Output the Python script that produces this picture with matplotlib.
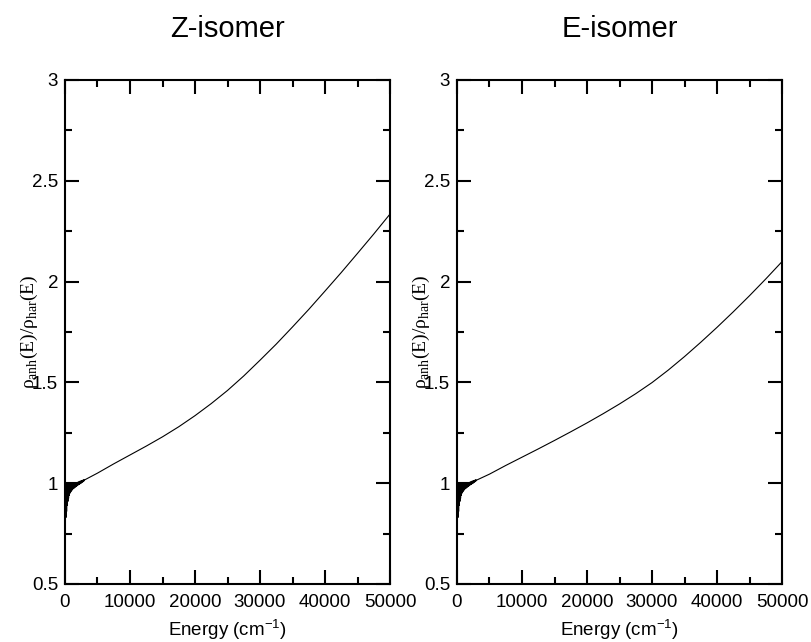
import matplotlib
matplotlib.use("Agg")
import matplotlib.pyplot as plt
from matplotlib.ticker import MultipleLocator

# ---------------- data ----------------
titles = ["Z-isomer", "E-isomer"]

# low-energy fluctuating region (same look for both isomers)
low_energy = [0, 50, 100, 150, 200, 250, 300, 350, 400, 450, 500, 550, 600, 650,
              700, 750, 800, 850, 900, 950, 1000, 1050, 1100, 1150, 1200, 1250,
              1300, 1350, 1400, 1450, 1500, 1550, 1600, 1650, 1700, 1750, 1800,
              1850, 1900, 1950, 2000, 2050, 2100, 2150, 2200, 2250, 2300, 2350,
              2400, 2450, 2500, 2550, 2600, 2650, 2700, 2750, 2800, 2850, 2900,
              2950]
low_ratio = [0.80, 0.81, 0.99, 0.83, 1.00, 0.86, 0.99, 0.89, 1.00, 0.91, 1.00,
             0.925, 0.995, 0.94, 1.00, 0.95, 1.00, 0.955, 0.995, 0.96, 1.00,
             0.965, 1.00, 0.968, 0.998, 0.972, 1.00, 0.975, 1.00, 0.977, 1.002,
             0.98, 1.00, 0.982, 1.003, 0.985, 1.00, 0.987, 1.004, 0.99, 1.005,
             0.992, 1.006, 0.994, 1.008, 0.996, 1.01, 0.998, 1.01, 1.00, 1.012,
             1.002, 1.013, 1.005, 1.014, 1.007, 1.016, 1.009, 1.017, 1.012]

energy = [3000, 5000, 7500, 10000, 12500, 15000, 17500, 20000, 22500, 25000,
          27500, 30000, 32500, 35000, 37500, 40000, 42500, 45000, 47500, 50000]
ratio_z = [1.016, 1.05, 1.096, 1.14, 1.184, 1.23, 1.28, 1.335, 1.395, 1.46,
           1.532, 1.61, 1.69, 1.775, 1.862, 1.953, 2.045, 2.14, 2.236, 2.335]
ratio_e = [1.015, 1.045, 1.088, 1.129, 1.17, 1.212, 1.255, 1.299, 1.345, 1.393,
           1.444, 1.499, 1.561, 1.628, 1.699, 1.773, 1.85, 1.93, 2.013, 2.099]

x_ticks = [0, 10000, 20000, 30000, 40000, 50000]
y_ticks = [0.5, 1, 1.5, 2, 2.5, 3]

# ---------------- figure ----------------
W, H = 812, 642
fig = plt.figure(figsize=(W / 100, H / 100), dpi=100)

sans = "Liberation Sans"
serif = "Liberation Serif"

panels = [
    (65, titles[0], ratio_z),
    (457, titles[1], ratio_e),
]
ax_w, ax_top, ax_bot = 325, 80, 584

for left_px, title, r in panels:
    ax = fig.add_axes([left_px / W, (H - ax_bot) / H, ax_w / W, (ax_bot - ax_top) / H])
    ax.plot(low_energy + energy, low_ratio + r, color="black", lw=0.8)
    ax.set_xlim(0, 50000)
    ax.set_ylim(0.5, 3)
    ax.set_xticks(x_ticks)
    ax.set_yticks(y_ticks)
    ax.xaxis.set_minor_locator(MultipleLocator(5000))
    ax.yaxis.set_minor_locator(MultipleLocator(0.25))
    ax.set_yticklabels([("%g" % v) for v in y_ticks])
    ax.set_xticklabels([str(v) for v in x_ticks])
    ax.tick_params(which="both", direction="in", top=True, right=True, width=1.5)
    ax.tick_params(which="major", length=10, labelsize=13.5, pad=5)
    ax.tick_params(which="minor", length=5)
    ax.tick_params(axis="x", which="major", pad=7)
    for lab in ax.get_xticklabels() + ax.get_yticklabels():
        lab.set_fontfamily(sans)
    for sp in ax.spines.values():
        sp.set_linewidth(1.5)

    cx = (left_px + ax_w / 2) / W
    fig.text(cx, (H - 29) / H, title, ha="center", va="center",
             fontsize=21, family=sans)
    fig.text(cx, (H - 630) / H, r"Energy (cm$^{\mathregular{-1}}$)",
             ha="center", va="center", fontsize=13.5, family=sans)
    fig.text((left_px - 36) / W, (H - 332) / H,
             r"ρ$_{\mathregular{anh}}$(E)/ρ$_{\mathregular{har}}$(E)",
             ha="center", va="center", rotation=90, fontsize=14, family=serif)

fig.savefig("out.png", dpi=100)
